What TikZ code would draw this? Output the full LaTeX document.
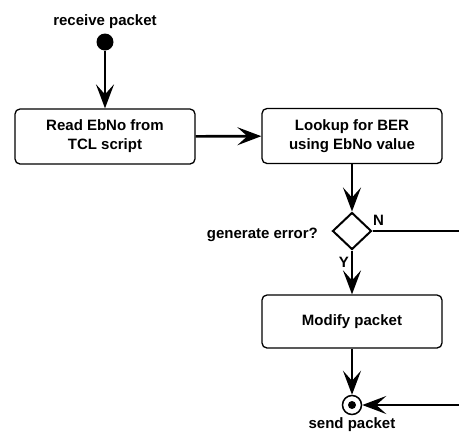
\documentclass[tikz,border=0pt]{standalone}
\usepackage{fontspec}
\setmainfont{Liberation Sans}
\usetikzlibrary{arrows.meta,shapes.geometric}
\begin{document}
\begin{tikzpicture}[x=1pt,y=-1pt,
  font=\bfseries\fontsize{15}{19}\selectfont,
  actbox/.style={draw, line width=1.3pt, rounded corners=5pt, minimum width=180pt, align=center, inner sep=0pt},
  flow/.style={line width=2.6pt, -{Stealth[length=24pt,width=18pt,inset=10pt]}},
  plain/.style={line width=2.6pt},
  lbl/.style={inner sep=0pt}]
\path[use as bounding box] (0,0) rectangle (459,432);
\clip (0,0) rectangle (459,432);
\node[lbl, anchor=base] (rl) at (105,25) {receive packet};
\node[circle, fill=black, minimum size=17pt, inner sep=0pt] (start) at (105,42) {};
\node[actbox, minimum height=55pt] (read) at (105,136.5) {Read EbNo from\\TCL script};
\node[actbox, minimum height=55pt] (look) at (352,136) {Lookup for BER\\using EbNo value};
\node[diamond, draw, line width=2pt, minimum width=39pt, minimum height=37pt, inner sep=0pt] (dec) at (352,231) {};
\node[lbl, anchor=base east] (ge) at (318,238) {generate error?};
\node[lbl, anchor=base west] (nl) at (373,225) {N};
\node[lbl, anchor=base east] (yl) at (349,267) {Y};
\node[actbox, minimum height=53pt] (mod) at (352,321.5) {Modify packet};
\node[circle, draw, line width=1.5pt, minimum size=19pt, inner sep=0pt] (end) at (352,405) {};
\node[circle, fill=black, minimum size=8pt, inner sep=0pt] (endin) at (352,405) {};
\node[lbl, anchor=base] (sl) at (352,428) {send packet};
\coordinate (nout) at (470,231);
\coordinate (nin) at (470,405);
\draw[flow] (start) -- (read);
\draw[flow] (read) -- (look);
\draw[flow] (look) -- (dec);
\draw[plain] (dec.east) -- (nout);
\draw[flow] (dec) -- (mod);
\draw[flow] (mod) -- (end);
\draw[flow] (nin) -- (end);
\end{tikzpicture}
\end{document}
